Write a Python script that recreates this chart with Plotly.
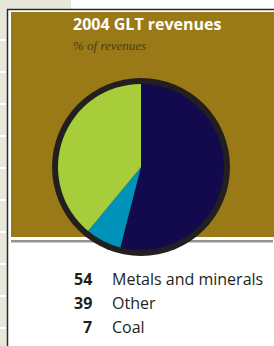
import plotly.graph_objects as go

labels = ["Metals and minerals", "Coal", "Other"]
values = [54, 7, 39]
colors = ["#13094d", "#0092b8", "#a8cd3a"]
legend_order = ["Metals and minerals", "Other", "Coal"]
title = "2004 GLT revenues"
subtitle = "% of revenues"

W, H = 274, 346
def px(x): return x / W
def py(y): return (H - y) / H

fig = go.Figure()
cx, cy, r_in, r_out = 141, 167, 83, 89
fig.add_trace(go.Pie(
    labels=labels, values=values, sort=False, direction="clockwise", rotation=0,
    marker=dict(colors=colors, line=dict(width=0)), textinfo="none", hoverinfo="label+value",
    showlegend=False,
    domain=dict(x=[px(cx - r_in), px(cx + r_in)], y=[py(cy + r_in), py(cy - r_in)]),
))

shapes = []
# left strip
shapes.append(dict(type="rect", xref="paper", yref="paper", x0=0, x1=px(7), y0=0, y1=1,
                   fillcolor="#e7e7da", line=dict(width=0), layer="below"))
shapes.append(dict(type="rect", xref="paper", yref="paper", x0=0, x1=px(71), y0=py(9), y1=1,
                   fillcolor="#e7e7da", line=dict(width=0), layer="below"))
for yy in range(40, 346, 32):
    shapes.append(dict(type="rect", xref="paper", yref="paper", x0=0, x1=px(6), y0=py(yy + 1), y1=py(yy - 1),
                       fillcolor="#ffffff", line=dict(width=0), layer="below"))
# frame lines
shapes.append(dict(type="line", xref="paper", yref="paper", x0=px(7.5), x1=px(7.5), y0=0, y1=py(9),
                   line=dict(color="#2a2a2a", width=1.5), layer="below"))
shapes.append(dict(type="line", xref="paper", yref="paper", x0=px(7), x1=1, y0=py(9.5), y1=py(9.5),
                   line=dict(color="#2a2a2a", width=1.5), layer="below"))
# olive panel
shapes.append(dict(type="rect", xref="paper", yref="paper", x0=px(11), x1=1, y0=py(237), y1=py(12),
                   fillcolor="#9a7a16", line=dict(width=0), layer="below"))
# gray rule
shapes.append(dict(type="rect", xref="paper", yref="paper", x0=px(11), x1=px(273), y0=py(242.5), y1=py(240),
                   fillcolor="#939393", line=dict(width=0), layer="below"))
# black ring behind pie
shapes.append(dict(type="circle", xref="paper", yref="paper", x0=px(cx - r_out), x1=px(cx + r_out),
                   y0=py(cy + r_out), y1=py(cy - r_out), fillcolor="#231f20", line=dict(width=0), layer="below"))

ann = []
ann.append(dict(text="<b>" + title + "</b>", x=px(71), y=py(24), xref="paper", yref="paper",
                xanchor="left", yanchor="middle", showarrow=False,
                font=dict(family="Open Sans", size=16, color="#ffffff")))
ann.append(dict(text="<i>" + subtitle + "</i>", x=px(71), y=py(46), xref="paper", yref="paper",
                xanchor="left", yanchor="middle", showarrow=False,
                font=dict(family="Liberation Serif", size=13, color="#4a3c12")))
vals = dict(zip(labels, values))
for i, lab in enumerate(legend_order):
    yy = 279 + i * 24
    ann.append(dict(text="<b>%d</b>" % vals[lab], x=px(94), y=py(yy), xref="paper", yref="paper",
                    xanchor="right", yanchor="middle", showarrow=False,
                    font=dict(family="Open Sans", size=16, color="#231f20")))
    ann.append(dict(text=lab, x=px(110), y=py(yy), xref="paper", yref="paper",
                    xanchor="left", yanchor="middle", showarrow=False,
                    font=dict(family="Open Sans", size=16, color="#231f20")))

fig.update_layout(width=W, height=H, margin=dict(l=0, r=0, t=0, b=0),
                  paper_bgcolor="#ffffff", plot_bgcolor="#ffffff",
                  shapes=shapes, annotations=ann)
fig.write_html("out.html", config={"displayModeBar": False},
               post_script="document.body.style.margin='0';document.body.style.overflow='hidden';")
